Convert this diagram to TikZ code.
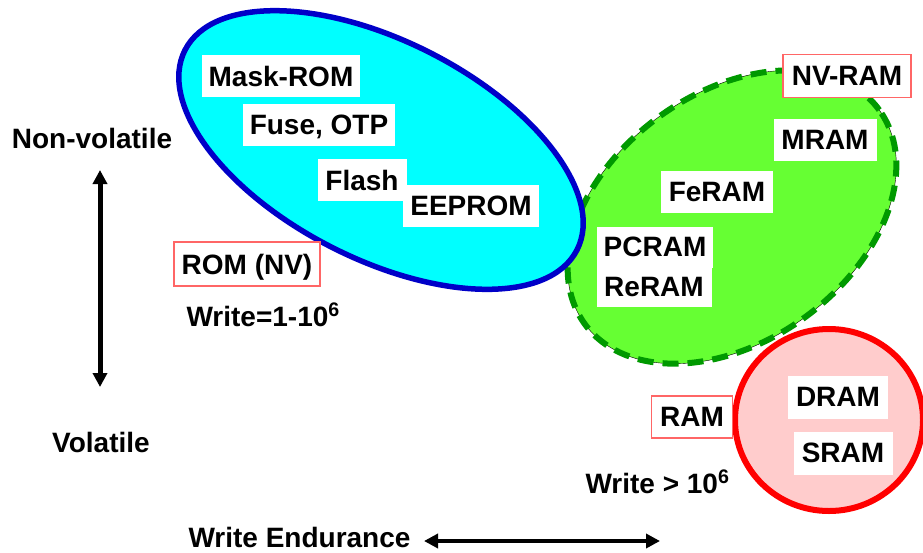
\documentclass[tikz,border=0pt]{standalone}
\usepackage{fontspec}
\setmainfont{Liberation Sans}
\usepackage{xcolor}
\usetikzlibrary{arrows.meta, shapes.geometric}

\definecolor{romfill}{RGB}{0,255,255}
\definecolor{romline}{RGB}{0,0,200}
\definecolor{nvfill}{RGB}{102,255,51}
\definecolor{nvline}{RGB}{0,153,0}
\definecolor{ramfill}{RGB}{255,204,204}
\definecolor{ramline}{RGB}{255,0,0}
\definecolor{tagline}{RGB}{255,102,102}

\begin{document}
\begin{tikzpicture}[x=1pt, y=1pt, font=\fontsize{28}{32}\selectfont\bfseries]
      \useasboundingbox (0,0) rectangle (923,-552);
      \tikzstyle{Region} = [ellipse, inner sep=0pt, outer sep=0pt]
      \tikzstyle{Cell} = [fill=white, inner sep=0pt, text depth=0pt]
      \tikzstyle{Tag} = [Cell, draw=tagline, line width=1.4pt]
      \tikzstyle{Axis} = [line width=5pt, {Triangle[width=14pt,length=14pt]}-{Triangle[width=14pt,length=14pt]}]
      % memory families
      \node[Region, fill=nvfill, draw=black, thin, minimum width=364pt, minimum height=248pt, rotate=36,
            postaction={draw=nvline, line width=6pt, dash pattern=on 16pt off 9pt}] (nv) at (732,-217) {};
      \node[Region, fill=romfill, draw=romline, line width=5.5pt, minimum width=440pt, minimum height=218pt, rotate=-27] (rom) at (381,-150) {};
      \node[Region, fill=ramfill, draw=ramline, line width=6pt, minimum width=188pt, minimum height=182pt] (ram) at (829,-420) {};
      % ROM side
      \node[Cell, minimum width=158pt, minimum height=42pt] (mask) at (281,-76) {Mask-ROM};
      \node[Cell, minimum width=152pt, minimum height=42pt] (fuse) at (319,-125) {Fuse, OTP};
      \node[Cell, minimum width=89pt, minimum height=42pt] (flash) at (362,-180) {Flash};
      \node[Cell, minimum width=136pt, minimum height=42pt] (eeprom) at (471,-206) {EEPROM};
      \node[Tag, minimum width=146pt, minimum height=44pt] (romtag) at (247,-264) {ROM (NV)};
      \node[anchor=base west] (romwrite) at (183,-326) {Write=1-10\textsuperscript{6}};
      % NV-RAM side
      \node[Tag, minimum width=128pt, minimum height=43pt] (nvtag) at (847,-76) {NV-RAM};
      \node[Cell, minimum width=103pt, minimum height=42pt] (mram) at (825,-140) {MRAM};
      \node[Cell, minimum width=112pt, minimum height=42pt] (feram) at (717,-192) {FeRAM};
      \node[Cell, minimum width=116pt, minimum height=41pt] (pcram) at (655,-247) {PCRAM};
      \node[Cell, minimum width=115pt, minimum height=39pt] (reram) at (654,-287) {ReRAM};
      % RAM side
      \node[Tag, minimum width=81pt, minimum height=42pt] (ramtag) at (692,-417) {RAM};
      \node[Cell, minimum width=100pt, minimum height=43pt] (dram) at (838,-397) {DRAM};
      \node[Cell, minimum width=99pt, minimum height=43pt] (sram) at (843,-453) {SRAM};
      \node[anchor=base west] (ramwrite) at (582,-493) {Write > 10\textsuperscript{6}};
      % axes
      \node (nonvol) at (92,-138) {Non-volatile};
      \node (vol) at (101,-442) {Volatile};
      \coordinate (vtop) at (100,-170);
      \coordinate (vbot) at (100,-387);
      \draw[Axis] (vtop) -- (vbot);
      \node[anchor=base west] (endur) at (185,-547) {Write Endurance};
      \coordinate (hleft) at (424,-541);
      \coordinate (hright) at (660,-541);
      \draw[Axis, line width=4pt] (hleft) -- (hright);
\end{tikzpicture}
\end{document}
